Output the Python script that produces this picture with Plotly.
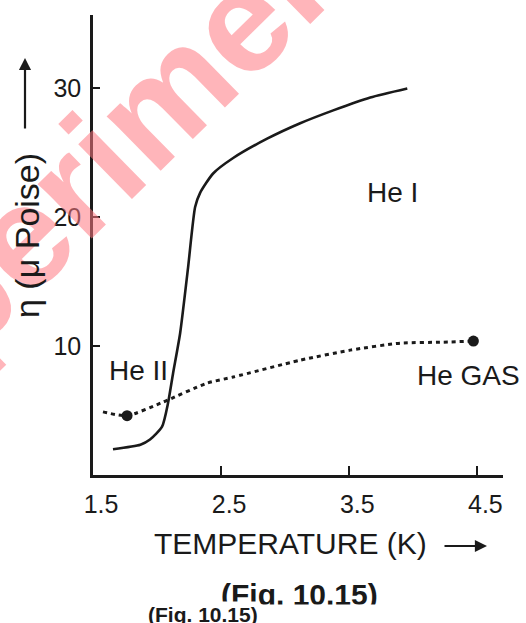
import plotly.graph_objects as go

# ---- data ----
temp_liquid = [1.656, 1.87, 1.945, 2.039, 2.086, 2.125, 2.18, 2.242, 2.297, 2.336,
               2.4375, 2.594, 2.859, 3.117, 3.375, 3.664, 3.953]
visc_liquid = [2.0, 2.35, 2.75, 3.75, 5.6, 7.9, 11.0, 16.1, 20.8, 21.9,
               23.4, 24.6, 26.1, 27.3, 28.3, 29.3, 30.0]

temp_gas = [1.578, 1.766, 2.047, 2.39, 2.594, 3.117, 3.508, 3.898, 4.234, 4.469]
visc_gas = [4.9, 4.6, 5.66, 7.13, 7.6, 8.91, 9.69, 10.23, 10.31, 10.39]

temp_gas_pts = [1.766, 4.469]
visc_gas_pts = [4.6, 10.39]

x_ticks = [1.5, 2.5, 3.5, 4.5]
x_tick_labels = ["1.5", "2.5", "3.5", "4.5"]
y_ticks = [10, 20, 30]
y_tick_labels = ["10", "20", "30"]

# ---- layout geometry ----
W, H = 526, 623
L, R, T, B = 93, 23, 15, 148
FONT = "Arial, Liberation Sans, sans-serif"
INK = "#1a1a1a"


def px(x):
    return (x - L) / (W - L - R)


def py(y):
    return (H - B - y) / (H - T - B)


fig = go.Figure()

fig.add_trace(go.Scatter(
    x=temp_liquid, y=visc_liquid, mode="lines",
    line=dict(color=INK, width=2.6, shape="spline", smoothing=0.6),
    hoverinfo="skip", showlegend=False))

fig.add_trace(go.Scatter(
    x=temp_gas, y=visc_gas, mode="lines",
    line=dict(color=INK, width=3, dash="4px,4px", shape="spline", smoothing=0.6),
    hoverinfo="skip", showlegend=False))

fig.add_trace(go.Scatter(
    x=temp_gas_pts, y=visc_gas_pts, mode="markers",
    marker=dict(color=INK, size=11),
    hoverinfo="skip", showlegend=False))


def label(text, x, y, size, **kw):
    d = dict(text=text, x=px(x), y=py(y), xref="paper", yref="paper",
             xanchor="center", yanchor="middle", showarrow=False,
             font=dict(family=FONT, size=size, color=kw.pop("color", INK)))
    d.update(kw)
    return d


def arrow(x, y, ax, ay):
    return dict(text="", x=px(x), y=py(y), xref="paper", yref="paper",
                xanchor="center", yanchor="middle",
                showarrow=True, ax=ax, ay=ay, arrowhead=2, arrowsize=1.1,
                arrowwidth=2.2, arrowcolor=INK)


ann = [
    # watermark
    label("<b>Experiment</b>", 84, 176, 145, textangle=-44.5,
          color="rgba(255,120,130,0.55)"),
    label("He I", 392, 192, 28),
    label("He II", 138, 370, 28),
    label("He GAS", 522, 375, 28, xanchor="right"),
    label("TEMPERATURE (K)", 290, 543, 30),
    arrow(487, 546, -44, 0),
    label("η (μ Poise)", 27, 236, 34, textangle=-90),
    arrow(25, 58, 0, 72),
    label("<b>(Fig. 10.15)</b>", 299, 594, 30),
    # white band that cuts the caption, as in the scan
    label(" ", 330, 615, 10, width=250, height=18, bgcolor="white"),
    label("<b>(Fig. 10.15)</b>", 203, 614, 21, bgcolor="white"),
]

fig.update_layout(
    width=W, height=H,
    margin=dict(l=L, r=R, t=T, b=B),
    paper_bgcolor="white", plot_bgcolor="white",
    annotations=ann,
    xaxis=dict(range=[1.5, 4.7], showgrid=False, zeroline=False,
               showline=True, linecolor=INK, linewidth=2.5,
               ticks="inside", ticklen=9, tickwidth=2, tickcolor=INK,
               tickvals=x_ticks, ticktext=x_tick_labels,
               ticklabelshift=8, ticklabelstandoff=5,
               tickfont=dict(family=FONT, size=25, color=INK)),
    yaxis=dict(range=[0, 35.7], showgrid=False, zeroline=False,
               showline=True, linecolor=INK, linewidth=2.5,
               ticks="inside", ticklen=7, tickwidth=2, tickcolor=INK,
               tickvals=y_ticks, ticktext=y_tick_labels,
               ticklabelstandoff=4,
               tickfont=dict(family=FONT, size=25, color=INK)),
)

fig.write_html("out.html", config={"displayModeBar": False},
               post_script="document.body.style.margin='0px';document.body.style.padding='0px';")
